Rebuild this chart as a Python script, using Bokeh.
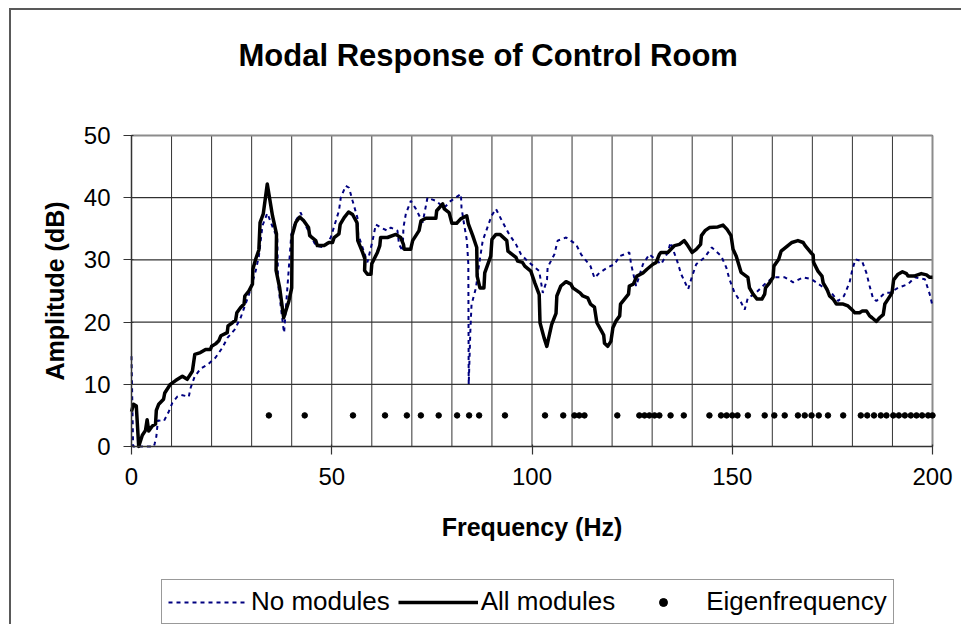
from bokeh.plotting import figure
from bokeh.models import Range1d, FixedTicker, Legend, LegendItem, Title
from bokeh.embed import file_html
from bokeh.resources import INLINE

# ---------------- data ----------------
freq_all = [0, 0.5, 1.2, 1.8, 2.7, 3.5, 3.9, 4.3, 5.2, 6.0,
            6.2, 6.8, 8.0, 8.3, 9.7, 11, 12.7, 13.9, 15.2, 15.8,
            17.2, 18.5, 19.7, 20, 21, 21.8, 22.3, 23.9, 24.1, 25.2,
            26, 26.3, 27.2, 28.1, 28.3, 29.3, 30.2, 30.3, 31, 31.8,
            32.1, 32.9, 33.9, 35.2, 36.2, 36.1, 37, 38, 39.3, 40,
            40.1, 41, 42, 43, 44.2, 44.5, 46, 46.4, 48.1, 49.3,
            50.2, 50.6, 51.8, 52.1, 53.1, 54.2, 55.2, 56.3, 56.5, 57.7,
            58.3, 58.2, 58.9, 59.8, 60, 61.4, 62, 62.2, 63.9, 66,
            67.2, 67.9, 68.1, 69.7, 70.2, 71.8, 72.3, 73.5, 76, 76.2,
            77.7, 78.1, 79.3, 80, 81.2, 82.2, 83.7, 84.1, 85.2, 86.2,
            86.3, 87, 88, 88.2, 89.7, 90, 91, 92, 93.7, 94,
            96, 96.4, 97.6, 98.2, 99.7, 100.7, 101.8, 102, 103, 103.7,
            104.9, 106, 106.2, 107.2, 108.5, 109.7, 110.2, 112, 112.7, 113.9,
            114.6, 115.6, 116.2, 117.4, 117.9, 118.1, 118.9, 119.7, 120.2, 121,
            121.9, 122.1, 123.1, 124.1, 124.3, 125.3, 126.2, 127.7, 128.7, 130.2,
            131, 131.8, 132.2, 133.9, 135.6, 136.8, 138, 138.7, 140, 141,
            142.1, 142.3, 143.2, 144.3, 146.4, 147.7, 148.7, 149.7, 150.2, 151,
            152.2, 153.9, 154.3, 155.2, 156.2, 157.4, 158.1, 158.3, 159.3, 160.2,
            160.4, 161.6, 162.2, 163.9, 164.9, 166.4, 167.7, 168.2, 169.6, 170.2,
            170.3, 171.4, 172.4, 172.7, 173.7, 174.3, 175.2, 176, 177.7, 178.9,
            179.9, 180.6, 181.8, 182.5, 183.5, 184.3, 184.9, 186, 186.8, 187.7,
            188.1, 188.9, 189.9, 190.3, 191.4, 192.5, 193.5, 193.9, 195.4, 197.2,
            198.5, 199.3, 200]
amp_all = [5.6, 6.8, 6.5, 0, 1.8, 2.6, 4.3, 2.5, 3.3, 3.6,
           5.8, 6.8, 7.6, 8.6, 10, 10.6, 11.3, 10.8, 12.1, 14.8,
           15.1, 15.6, 15.6, 16.1, 16.5, 17, 17.8, 18.3, 19.4, 19.9,
           20.3, 21.5, 22.3, 22.9, 24.2, 25, 26.1, 28.5, 30.1, 31.6,
           36, 37.4, 42.2, 37.1, 34.2, 28.3, 25.5, 20.7, 23.4, 25.5,
           33.9, 36, 36.9, 36.3, 35.2, 33.9, 33.1, 32.3, 32.3, 32.8,
           32.8, 33.6, 34.2, 35.7, 36.8, 37.7, 37.3, 36, 33.1, 31.2,
           30.1, 28.3, 27.7, 27.7, 29.4, 31.2, 32.3, 33.6, 33.6, 34.1,
           33.6, 32.5, 31.7, 31.7, 33.1, 34.7, 36.3, 36.7, 36.7, 37.9,
           39, 38.2, 37.6, 35.9, 35.9, 36.6, 37.1, 35.8, 33.9, 32,
           27.4, 25.5, 25.5, 27.9, 30.6, 33.3, 34.1, 34.1, 33.1, 31.4,
           30.4, 29.8, 29.6, 29, 28.2, 26.3, 24.4, 19.9, 17.5, 16.1,
           19.6, 21.4, 24.2, 25.8, 26.5, 26.1, 25.5, 24.7, 24.2, 23.9,
           22.9, 22.4, 19.9, 18.5, 17.9, 16.6, 16.1, 16.9, 19.1, 20.2,
           21, 22.9, 23.7, 24.5, 25.8, 26.1, 27.4, 27.9, 28.5, 29.3,
           29.6, 30.9, 31.2, 31.2, 32.3, 32.5, 33.1, 32.5, 31.2, 31.7,
           32.5, 33.9, 34.7, 35.2, 35.3, 35.6, 34.9, 33.9, 31.7, 30.6,
           28, 27.2, 25.5, 24.5, 23.7, 23.7, 24.5, 25.5, 26.3, 27.2,
           29, 30.1, 31.4, 32.3, 32.8, 33.1, 32.8, 32.3, 31.2, 30.8,
           29.6, 28.2, 27.4, 26.3, 25.2, 24.2, 23.7, 22.9, 22.9, 22.6,
           22, 21.5, 21.5, 21.8, 21.8, 21, 20.7, 20.1, 20.7, 21.2,
           22.9, 23.7, 24.7, 26.8, 27.7, 28.1, 27.8, 27.4, 27.4, 27.8,
           27.6, 27.2, 27.2]

freq_none = [0, 0.4, 0.8, 5.6, 5.8, 6.2, 6.6, 8.1, 9.3, 10.2,
             11.4, 12.4, 14.3, 14.75, 15.75, 17.25, 19.1, 21, 22.7, 24,
             25.75, 27.25, 29.3, 31, 31.8, 32.7, 33.9, 35.6, 36.4, 36.6,
             37.9, 38.1, 39.9, 41, 42.25, 43.5, 46, 48.1, 49.75, 51.8,
             52.25, 53.5, 54.3, 55.2, 56.4, 56.6, 58.9, 60.2, 61, 62.25,
             63.9, 64.75, 66.4, 66.8, 67.7, 67.9, 68.5, 69.75, 71, 72.7,
             73.9, 76, 78.1, 79.75, 82.25, 82.4, 83.1, 83.75, 84.1, 84.2,
             84.6, 84.9, 86, 86.8, 87.7, 88.75, 89.9, 91, 92.4, 94.3,
             96, 97.25, 98.9, 101.8, 102.7, 103.75, 103.9, 105.6, 106.4, 108.5,
             111, 112.25, 114.6, 115.6, 116.8, 118.9, 120.6, 121.9, 124.3, 124.75,
             126, 127.7, 129.3, 132.25, 133.9, 134.6, 136.25, 137.25, 139, 139.9,
             141, 143.1, 144.9, 147.25, 148.5, 149.3, 150.6, 152.25, 153.1, 153.9,
             155.6, 158.1, 160.2, 163.1, 165.2, 167.7, 169.75, 172.25, 174.75, 176.4,
             177.9, 179.3, 179.9, 180.75, 182.4, 183.5, 184.3, 185.2, 186, 188.1,
             189.3, 191.4, 193.9, 195.6, 198.1, 199.3, 200]
amp_none = [14.5, 0, 0, 0, 0.5, 1.6, 4.2, 4.1, 5.6, 7,
            8, 8.3, 8, 9.4, 11.2, 12.5, 13.2, 14.3, 15.9, 17.5,
            18.8, 20.7, 24.4, 28.2, 30.6, 35.5, 37.5, 34.7, 33.6, 26.1,
            19.2, 18.3, 34.1, 36.3, 37.6, 35.5, 32.3, 32, 33.6, 37.9,
            40, 41.9, 41.6, 39.5, 36.8, 34.1, 29.6, 33.1, 35.7, 35.2,
            34.7, 35.2, 34.7, 32.5, 31.4, 35.2, 37.4, 39.5, 38.2, 36,
            40, 39.5, 38.4, 39.5, 40.6, 38.4, 35.5, 33.1, 29.3, 10,
            18.5, 22.8, 25.5, 29.3, 33.1, 35, 37.1, 38.2, 36.4, 34.1,
            32.5, 30.9, 29.8, 28.2, 24.7, 26.8, 28.8, 30.9, 33.1, 33.6,
            32.5, 30.9, 29, 27.1, 27.9, 28.8, 29.3, 30.6, 31.2, 29.3,
            25.8, 29.3, 30.9, 29.3, 31.2, 32.8, 29.8, 27.7, 25.3, 27.2,
            29.3, 30.4, 32, 30.6, 28.8, 26.9, 24.7, 23.1, 22, 23.9,
            24.5, 26.1, 27.2, 27.2, 26.4, 27.2, 26.9, 25.8, 24.7, 23.4,
            24.2, 26.4, 28.2, 30.1, 29.8, 27.9, 25.8, 23.7, 23.4, 24.7,
            24.7, 25.5, 26.1, 27.2, 26.9, 24.5, 22.6]

eig_freq = [34.3, 43.25, 55.3, 63.3, 68.75, 72.25, 76.7, 81.3, 84.3, 86.8,
            93.25, 103.25, 107.8, 110.6, 111.8, 113.1, 121.3, 126.8, 128.1, 129.3,
            130.6, 131.8, 134.6, 137.9, 144.3, 147.2, 148.6, 150, 151.3, 153.9,
            158.1, 160.5, 163.1, 166.4, 168.1, 169.8, 171.6, 173.9, 177.7, 182.1,
            183.7, 185.4, 187.1, 188.5, 190.2, 191.6, 193.1, 194.6, 196, 197.4,
            198.9, 200]
eig_amp = [5] * len(eig_freq)

x_min, x_max = 0, 200
y_min, y_max = 0, 50
x_ticks = [0, 50, 100, 150, 200]
y_ticks = [0, 10, 20, 30, 40, 50]
x_grid = list(range(0, 201, 10))

title_text = "Modal Response of Control Room"
x_label = "Frequency (Hz)"
y_label = "Amplitude (dB)"
series_names = ["No modules", "All modules", "Eigenfrequency"]

FONT = "Liberation Sans"

# ---------------- layout constants (canvas pixels) ----------------
W, H = 952, 616
PLOT_LEFT, PLOT_RIGHT = 120, 921      # canvas px of x = 0 and x = 200
PLOT_TOP, AXIS_Y = 125, 436           # canvas px of y = 50 and y = 0
FRAME_TOP = 100                       # frame starts a bit above the plot area
px_x = (PLOT_RIGHT - PLOT_LEFT) / (x_max - x_min)
px_y = (AXIS_Y - PLOT_TOP) / (y_max - y_min)
x_lo = x_min - PLOT_LEFT / px_x
x_hi = x_max + (W - PLOT_RIGHT) / px_x
y_lo = y_min - (H - AXIS_Y) / px_y
y_hi = y_max + (PLOT_TOP - FRAME_TOP) / px_y

p = figure(width=W, height=H, output_backend="svg", toolbar_location=None,
           x_range=Range1d(x_lo, x_hi), y_range=Range1d(y_lo, y_hi),
           min_border_left=0, min_border_right=0,
           min_border_top=FRAME_TOP, min_border_bottom=0)
p.styles = {"border-left": "2px solid #595959", "border-top": "2px solid #595959",
            "margin-left": "9px", "margin-top": "8px"}
p.background_fill_color = "white"
p.border_fill_color = "white"
p.outline_line_color = None

# spacer between frame and title, then the title itself
p.add_layout(Title(text=" ", text_font_size="10px", standoff=20), "above")
p.add_layout(Title(text=title_text, align="left", offset=227, standoff=10,
                   text_font=FONT, text_font_size="31px", text_font_style="bold",
                   text_color="black"), "above")

# axes
p.xaxis.ticker = FixedTicker(ticks=x_ticks)
p.yaxis.ticker = FixedTicker(ticks=y_ticks)
p.xaxis.fixed_location = y_min
p.yaxis.fixed_location = x_min
p.xaxis.bounds = (x_min, x_max)
p.yaxis.bounds = (y_min, y_max)
for ax in (p.xaxis[0], p.yaxis[0]):
    ax.axis_line_color = "#333333"
    ax.axis_line_width = 1.5
    ax.major_tick_line_color = "#333333"
    ax.major_tick_line_width = 1.2
    ax.major_tick_out = 8
    ax.major_tick_in = 2
    ax.minor_tick_line_color = None
    ax.major_label_text_font = FONT
    ax.major_label_text_font_size = "24px"
    ax.major_label_text_color = "black"
    ax.axis_label_text_font = FONT
    ax.axis_label_text_font_size = "25px"
    ax.axis_label_text_font_style = "bold"
    ax.axis_label_text_color = "black"
p.xaxis.axis_label = x_label
p.yaxis.axis_label = y_label
p.xaxis.major_label_standoff = 13
p.yaxis.major_label_standoff = 13
p.xaxis.axis_label_standoff = 25
p.yaxis.axis_label_standoff = 12

p.xgrid.grid_line_color = None
p.ygrid.grid_line_color = None

# gridlines limited to the plot area
n_h = len(y_ticks)
p.segment(x0=[x_min] * n_h, y0=y_ticks, x1=[x_max] * n_h, y1=y_ticks,
          line_color="black", line_width=1, level="underlay")
n_v = len(x_grid)
p.segment(x0=x_grid, y0=[y_min] * n_v, x1=x_grid, y1=[y_max] * n_v,
          line_color="#333333", line_width=1, level="underlay")
# plot-area border (top and right)
p.segment(x0=[x_min, x_max], y0=[y_max, y_min], x1=[x_max, x_max], y1=[y_max, y_max],
          line_color="#8c8c8c", line_width=2, level="underlay")

# data
r_none = p.line(freq_none, amp_none, line_color="#000080", line_width=2,
                line_dash="4 4")
r_all = p.line(freq_all, amp_all, line_color="black", line_width=3.5,
               line_join="round")
r_eig = p.scatter(eig_freq, eig_amp, size=5.5, marker="circle",
                  fill_color="black", line_color="black")

legend = Legend(items=[LegendItem(label=series_names[0], renderers=[r_none]),
                       LegendItem(label=series_names[1], renderers=[r_all]),
                       LegendItem(label=series_names[2], renderers=[r_eig])],
                orientation="horizontal", location=(150, 2),
                label_text_font=FONT, label_text_font_size="26px",
                label_text_color="black",
                glyph_width=80, glyph_height=20, label_standoff=3,
                spacing=8, padding=6, margin=0,
                border_line_color="#333333", border_line_width=1,
                background_fill_color="white", background_fill_alpha=1)
p.add_layout(legend, "center")

open("out.html", "w").write(file_html(p, INLINE))
